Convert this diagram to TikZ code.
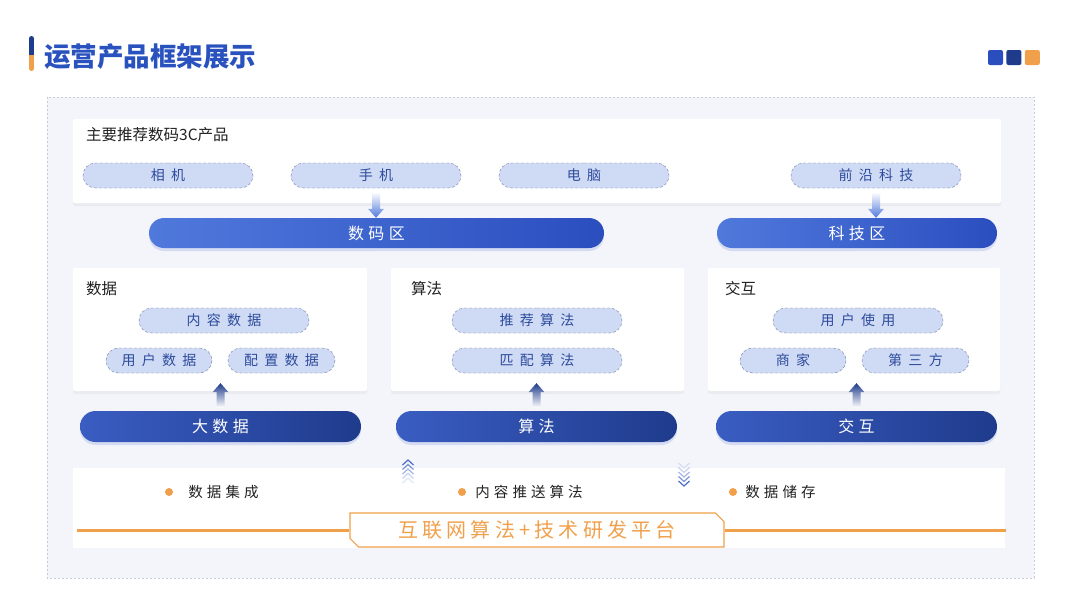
\documentclass[tikz,border=0pt]{standalone}
\usepackage{fontspec}
\setmainfont{Noto Sans CJK SC}
\newfontfamily\pillfont[LetterSpace=45]{Noto Sans CJK SC}
\newfontfamily\zonefont[LetterSpace=28]{Noto Sans CJK SC}
\newfontfamily\platfont[LetterSpace=21]{Noto Sans CJK SC}
\usetikzlibrary{positioning,shapes.misc,shadows,calc}
\definecolor{titleblue}{HTML}{2A52BE}
\definecolor{pillfill}{HTML}{CFDAF5}
\definecolor{pillline}{HTML}{6B7BA5}
\definecolor{pilltext}{HTML}{2D4B9C}
\definecolor{barL}{HTML}{5079DC}
\definecolor{barR}{HTML}{2B4EBF}
\definecolor{darkL}{HTML}{3A5DC2}
\definecolor{darkR}{HTML}{1F3B8C}
\definecolor{accent}{HTML}{F0A04B}
\definecolor{bgtint}{HTML}{F3F5FB}
\definecolor{framegray}{HTML}{C8CCD6}
\definecolor{inkblack}{HTML}{222222}

% 渐变箭头
\newcommand{\fatdown}[2]{%
  \shade[top color=white, bottom color=barL] let \p1=(#1), \p2=(#2) in
    ({\x1-4pt},\y1) -- ({\x1+4pt},\y1) -- ({\x1+4pt},{\y2+9pt}) -- ({\x1+8pt},{\y2+9pt})
    -- (\x1,\y2) -- ({\x1-8pt},{\y2+9pt}) -- ({\x1-4pt},{\y2+9pt}) -- cycle;}
\newcommand{\fatup}[2]{%
  \shade[top color=darkR, bottom color=white] let \p1=(#1), \p2=(#2) in
    ({\x1-4pt},\y1) -- ({\x1+4pt},\y1) -- ({\x1+4pt},{\y2-9pt}) -- ({\x1+8pt},{\y2-9pt})
    -- (\x1,\y2) -- ({\x1-8pt},{\y2-9pt}) -- ({\x1-4pt},{\y2-9pt}) -- cycle;}

\begin{document}
\begin{tikzpicture}[x=1pt, y=-1pt,
  panelbox/.style={fill=white, rounded corners=2pt, inner sep=0pt,
    drop shadow={opacity=0.08, shadow xshift=0pt, shadow yshift=-3pt}},
  pillbox/.style={rounded rectangle, draw=pillline, dashed, dash pattern=on 3pt off 2pt,
    fill=pillfill, text=pilltext, minimum height=25pt, inner sep=0pt,
    font=\pillfont\fontsize{14}{16}\selectfont},
  widepill/.style={pillbox, minimum width=170pt},
  shortpill/.style={pillbox, minimum width=106pt},
  zonebar/.style={rounded rectangle, left color=barL, right color=barR, text=white,
    minimum height=30pt, inner sep=0pt, font=\zonefont\fontsize{16}{18}\selectfont,
    drop shadow={opacity=0.15, fill=barR, shadow xshift=0pt, shadow yshift=-3pt}},
  basebar/.style={zonebar, left color=darkL, right color=darkR, minimum height=31pt, minimum width=281pt},
  heading/.style={anchor=west, inner sep=0pt, text=inkblack, font=\fontsize{15.5}{17}\selectfont},
  bullet/.style={circle, fill=accent, inner sep=0pt, minimum size=8pt},
  itemtext/.style={anchor=west, inner sep=0pt, text=inkblack, font=\zonefont\fontsize{14.5}{16}\selectfont},
  sqbox/.style={rounded corners=2pt, minimum size=15pt, inner sep=0pt}]
\useasboundingbox (0,0) rectangle (1080,608);

% 标题
\begin{scope}
  \clip[rounded corners=2.5pt] (29,36) rectangle (34,71);
  \fill[darkR] (29,36) rectangle (34,55);
  \fill[accent] (29,55) rectangle (34,71);
\end{scope}
\node[anchor=west, inner sep=0pt, text=titleblue, font=\bfseries\fontsize{26.5}{30}\selectfont] (title) at (44,57) {运营产品框架展示};
\node[sqbox, fill=barR] (sq1) at (995.5,57.5) {};
\node[sqbox, fill=darkR, right=3pt of sq1] (sq2) {};
\node[sqbox, fill=accent, right=3pt of sq2] (sq3) {};

% 外框
\draw[framegray, dashed, dash pattern=on 2pt off 2pt, fill=bgtint] (47,97) rectangle (1034,578);

% 产品区
\node[panelbox, minimum width=928pt, minimum height=84pt] (prodpanel) at (537,161) {};
\node[heading] (prodlabel) at (86,135) {主要推荐数码3C产品};
\node[widepill] (camera) at (168,175.5) {相机};
\node[widepill] (phone) at (376,175.5) {手机};
\node[widepill] (pc) at (584,175.5) {电脑};
\node[widepill] (tech) at (876,175.5) {前沿科技};

\node[zonebar, minimum width=455pt] (digital) at (376.5,233) {数码区};
\node[zonebar, minimum width=280pt] (techzone) at (857,233) {科技区};
\fatdown{$(phone.south)+(0,4)$}{phone.south |- digital.north}
\fatdown{$(tech.south)+(0,4)$}{tech.south |- techzone.north}

% 数据 / 算法 / 交互
\node[panelbox, minimum width=294pt, minimum height=123pt] (datapanel) at (220,329.5) {};
\node[panelbox, minimum width=293pt, minimum height=123pt] (algopanel) at (537.5,329.5) {};
\node[panelbox, minimum width=292pt, minimum height=123pt] (interpanel) at (854,329.5) {};
\node[heading] (datalabel) at (86,289) {数据};
\node[heading] (algolabel) at (411,289) {算法};
\node[heading] (interlabel) at (725,289) {交互};

\node[widepill] (content) at (224,320.5) {内容数据};
\node[shortpill] (userdata) at (159,360.5) {用户数据};
\node[shortpill, minimum width=107pt] (config) at (281.5,360.5) {配置数据};
\node[widepill] (recommend) at (537,320.5) {推荐算法};
\node[widepill] (match) at (537,360.5) {匹配算法};
\node[widepill] (usage) at (858,320.5) {用户使用};
\node[shortpill] (merchant) at (793,360.5) {商家};
\node[shortpill, minimum width=107pt] (third) at (915.5,360.5) {第三方};

\node[basebar] (bigdata) at (220.5,426.5) {大数据};
\node[basebar] (algobar) at (536.5,426.5) {算法};
\node[basebar] (interbar) at (856.5,426.5) {交互};
\fatup{$(bigdata.north)+(0,-3)$}{$(bigdata.north |- datapanel.south)+(0,-8)$}
\fatup{$(algobar.north)+(0,-3)$}{$(algobar.north |- algopanel.south)+(0,-8)$}
\fatup{$(interbar.north)+(0,-3)$}{$(interbar.north |- interpanel.south)+(0,-8)$}

% 平台
\fill[white] (73,468) rectangle (1005,548);
\foreach \i/\op in {0/.9,1/.65,2/.45,3/.28,4/.15}
  \draw[darkL, line width=1.2pt, opacity=\op] (402.5,{465+\i*4.5}) -- (408,{460+\i*4.5}) -- (413.5,{465+\i*4.5});
\foreach \i/\op in {0/.15,1/.28,2/.45,3/.65,4/.9}
  \draw[darkL, line width=1.2pt, opacity=\op] (678.5,{463+\i*4.5}) -- (684,{468+\i*4.5}) -- (689.5,{463+\i*4.5});

\node[bullet] (dot1) at (169,492) {};
\node[bullet] (dot2) at (462,492) {};
\node[bullet] (dot3) at (733,492) {};
\node[itemtext, right=15pt of dot1] (item1) {数据集成};
\node[itemtext, right=9pt of dot2] (item2) {内容推送算法};
\node[itemtext, right=8pt of dot3] (item3) {数据储存};

\coordinate (lineL) at (77,530);
\coordinate (lineR) at (1006,530);
\node[chamfered rectangle, chamfered rectangle corners={north east,south west},
  chamfered rectangle xsep=5pt, draw=accent, line width=1.2pt, fill=white,
  minimum width=374pt, minimum height=34pt, inner sep=0pt, text=accent,
  font=\platfont\fontsize{20}{22}\selectfont] (platform) at (537,530) {互联网算法+技术研发平台};
\draw[accent, line width=3pt] (lineL) -- (platform.west);
\draw[accent, line width=3pt] (platform.east) -- (lineR);
\end{tikzpicture}
\end{document}
